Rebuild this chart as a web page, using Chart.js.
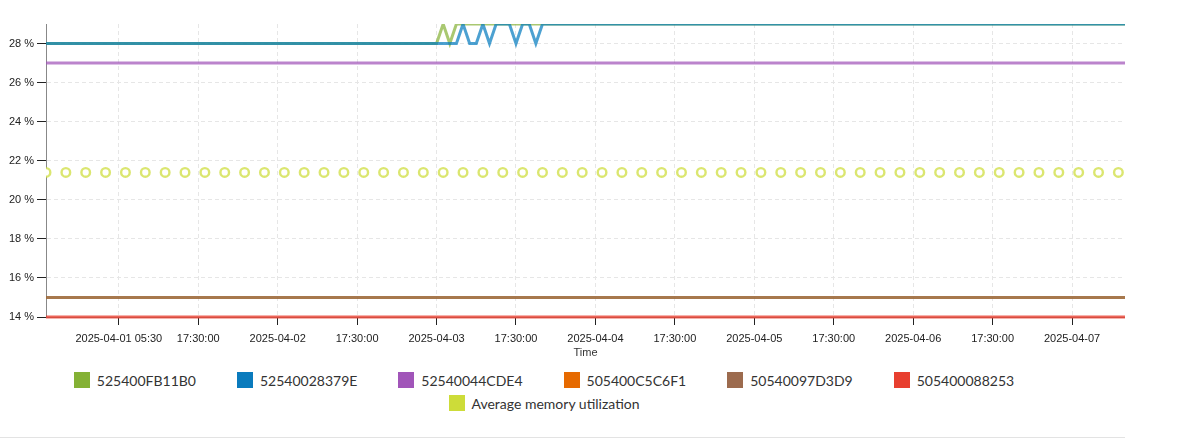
<!DOCTYPE html>
<html>
<head>
<meta charset="utf-8">
<script src="https://cdn.jsdelivr.net/npm/chart.js@4/dist/chart.umd.min.js"></script>
<style>
  body { margin: 0; background: #fff; }
  #wrap { position: relative; width: 1125px; height: 437px; border-bottom: 1px solid #e3e3e3; }
  #box { position: absolute; left: 0; top: 0; width: 1125px; height: 365px; }
  #legend { position: absolute; left: -2px; top: 372px; width: 1092px; display: flex; flex-wrap: wrap;
    justify-content: center; column-gap: 41px; row-gap: 7px; font-family: Lato, sans-serif; font-size: 14px; color: #333; }
  #legend .item { display: flex; align-items: center; height: 16px; cursor: pointer; }
  #legend .sw { width: 16px; height: 16px; margin-right: 7px; }
</style>
</head>
<body>
<div id="wrap">
  <div id="box"><canvas id="myChart"></canvas></div>
  <div id="legend"></div>
</div>
<script>
// x values are hours since the first sample
const tickHours = [11, 23, 35, 47, 59, 71, 83, 95, 107, 119, 131, 143, 155]
const tickLabels = ['2025-04-01 05:30', '17:30:00', '2025-04-02', '17:30:00', '2025-04-03', '17:30:00',
  '2025-04-04', '17:30:00', '2025-04-05', '17:30:00', '2025-04-06', '17:30:00', '2025-04-07']

const seriesNames = ['525400FB11B0', '52540028379E', '52540044CDE4', '505400C5C6F1', '50540097D3D9', '505400088253', 'Average memory utilization']
const legendColors = ['#84b135', '#0a7bbd', '#a155b9', '#e66a00', '#9c6b4e', '#e83f2f', '#cddc39']

const fb11b0Hours = [0, 59, 60, 61, 62, 163]
const fb11b0Values = [28, 28, 29, 28, 29, 29]

const e28379Hours = [0, 62, 63, 64, 65, 66, 67, 68, 70, 71, 72, 73, 74, 75, 163]
const e28379Values = [28, 28, 29, 28, 28, 29, 28, 29, 29, 28, 29, 29, 28, 29, 29]

const cde4Hours = [0, 163]
const cde4Values = [27, 27]

const c6f1Hours = []
const c6f1Values = []

const d3d9Hours = [0, 163]
const d3d9Values = [15, 15]

const e88253Hours = [0, 163]
const e88253Values = [14, 14]

const avgHours = [0, 3, 6, 9, 12, 15, 18, 21, 24, 27, 30, 33, 36, 39, 42, 45, 48, 51, 54, 57, 60, 63, 66, 69, 72,
  75, 78, 81, 84, 87, 90, 93, 96, 99, 102, 105, 108, 111, 114, 117, 120, 123, 126, 129, 132, 135, 138, 141,
  144, 147, 150, 153, 156, 159, 162]
const avgValues = [21.4, 21.4, 21.4, 21.4, 21.4, 21.4, 21.4, 21.4, 21.4, 21.4, 21.4, 21.4, 21.4, 21.4, 21.4,
  21.4, 21.4, 21.4, 21.4, 21.4, 21.4, 21.4, 21.4, 21.4, 21.4, 21.4, 21.4, 21.4, 21.4, 21.4, 21.4, 21.4, 21.4,
  21.4, 21.4, 21.4, 21.4, 21.4, 21.4, 21.4, 21.4, 21.4, 21.4, 21.4, 21.4, 21.4, 21.4, 21.4, 21.4, 21.4, 21.4,
  21.4, 21.4, 21.4, 21.4]

function pts(hours, values) {
  return hours.map((h, i) => ({x: h, y: values[i]}))
}

function line(i, data, color, extra) {
  return Object.assign({
    label: seriesNames[i],
    data: data,
    borderColor: color,
    backgroundColor: legendColors[i],
    borderWidth: 3,
    pointRadius: 0,
    pointHoverRadius: 0,
    tension: 0,
    order: i + 1,
  }, extra || {})
}

const datasets = [
  line(0, pts(fb11b0Hours, fb11b0Values), 'rgba(132,177,53,0.7)'),
  // blue sits on top of the green one where they overlap
  line(1, pts(e28379Hours, e28379Values), 'rgba(0,121,190,0.7)', {order: 0}),
  line(2, pts(cde4Hours, cde4Values), 'rgba(161,85,185,0.72)'),
  line(3, pts(c6f1Hours, c6f1Values), 'rgba(230,106,0,0.7)'),
  line(4, pts(d3d9Hours, d3d9Values), 'rgba(160,108,62,0.92)'),
  line(5, pts(e88253Hours, e88253Values), 'rgba(232,63,47,0.8)', {clip: false}),
  {
    label: seriesNames[6],
    data: pts(avgHours, avgValues),
    showLine: false,
    borderColor: 'rgba(205,220,57,0.72)',
    backgroundColor: '#fff',
    pointStyle: 'circle',
    pointRadius: 4.3,
    pointBorderWidth: 2.4,
    pointHoverRadius: 5,
    order: 7,
  },
]

const htmlLegend = {
  id: 'htmlLegend',
  afterUpdate(chart) {
    const box = document.getElementById('legend')
    box.innerHTML = ''
    chart.data.datasets.forEach((ds, i) => {
      const item = document.createElement('div')
      item.className = 'item'
      item.innerHTML = `<span class="sw" style="background:${legendColors[i]}"></span><span>${ds.label}</span>`
      if (!chart.isDatasetVisible(i)) item.style.opacity = 0.4
      item.addEventListener('click', () => {
        chart.setDatasetVisibility(i, !chart.isDatasetVisible(i))
        chart.update()
      })
      box.append(item)
    })
  }
}

Chart.defaults.font.family = '"Liberation Sans", Arial, sans-serif'
Chart.defaults.font.size = 11
Chart.defaults.color = '#222'

const ctx = document.getElementById('myChart')
const chart = new Chart(ctx, {
  type: 'line',
  data: {datasets: datasets},
  options: {
    responsive: true,
    maintainAspectRatio: false,
    animation: false,
    layout: {autoPadding: false, padding: {top: 24, left: 0, right: 0, bottom: 0}},
    plugins: {
      legend: {display: false},
      tooltip: {mode: 'nearest', intersect: false},
    },
    scales: {
      x: {
        type: 'linear',
        min: 0,
        max: 163,
        afterBuildTicks: (s) => { s.ticks = tickHours.map(v => ({value: v})) },
        afterFit: (s) => { s.height = 48 },
        ticks: {
          autoSkip: false,
          maxRotation: 0,
          padding: 7,
          color: '#222',
          font: {size: 11},
          callback: (v, i) => tickLabels[i],
        },
        grid: {
          color: '#e6e6e6',
          tickColor: '#222',
          tickLength: 8,
          tickBorderDash: [],
        },
        border: {color: '#888', dash: [4, 3]},
        title: {display: true, text: 'Time', color: '#333', font: {size: 11}, padding: {top: 4, bottom: 5}},
      },
      y: {
        min: 14,
        max: 29,
        afterFit: (s) => { s.width = 46 },
        ticks: {
          stepSize: 2,
          includeBounds: false,
          padding: 3,
          color: '#222',
          font: {size: 11},
          callback: (v) => v + ' %',
        },
        grid: {
          color: '#e6e6e6',
          tickColor: '#222',
          tickLength: 9,
          tickBorderDash: [],
        },
        border: {color: '#888', dash: [4, 3]},
      },
    },
  },
  plugins: [htmlLegend],
})
</script>
</body>
</html>
